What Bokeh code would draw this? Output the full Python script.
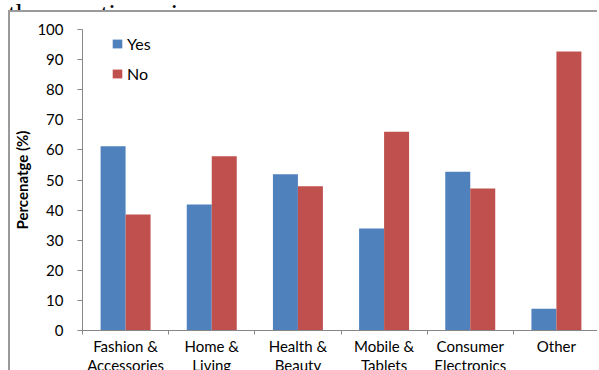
from bokeh.plotting import figure
from bokeh.models import Range1d, FixedTicker, Legend, LegendItem, ColumnDataSource, Div
from bokeh.layouts import column
from bokeh.embed import file_html
from bokeh.resources import INLINE

categories = ["Fashion &\nAccessories", "Home &\nLiving", "Health &\nBeauty",
              "Mobile &\nTablets", "Consumer\nElectronics", "Other"]
yes_values = [61.2, 41.9, 51.9, 33.9, 52.7, 7.2]
no_values = [38.5, 57.9, 47.9, 66.0, 47.2, 92.7]
y_ticks = [0, 10, 20, 30, 40, 50, 60, 70, 80, 90, 100]
series_names = ["Yes", "No"]
caption = "the questionnaire."
y_label = "Percenatge (%)"

BLUE = "#4F81BD"
RED = "#C0504D"
AXIS = "#868686"
FONT = "Lato"

n = len(categories)
p = figure(width=589, height=370, output_backend="svg", toolbar_location=None,
           x_range=Range1d(0, n), y_range=Range1d(0, 100),
           min_border_left=72, min_border_right=0, min_border_top=17, min_border_bottom=52,
           margin=(0, 0, 0, 8),
           styles={"border-left": "2px solid #9a9a9a", "border-top": "2px solid #9a9a9a"})
p.outline_line_color = None
p.grid.visible = False
p.background_fill_color = "white"
p.border_fill_color = "white"

centers = [i + 0.5 for i in range(n)]
src = ColumnDataSource(dict(
    x_yes=[c - 0.145 for c in centers], x_no=[c + 0.145 for c in centers],
    yes=yes_values, no=no_values))
r_yes = p.vbar(x="x_yes", top="yes", bottom=0, width=0.29, source=src,
               fill_color=BLUE, line_color=None)
r_no = p.vbar(x="x_no", top="no", bottom=0, width=0.29, source=src,
              fill_color=RED, line_color=None)

# x axis: labels at category centres, ticks (minor) at category boundaries
xa = p.xaxis[0]
xa.ticker = FixedTicker(ticks=centers, minor_ticks=list(range(n + 1)))
xa.major_label_overrides = {c: cat for c, cat in zip(centers, categories)}
xa.major_label_text_font = FONT
xa.major_label_text_font_size = "15px"
xa.major_label_text_color = "#000000"
xa.major_label_text_line_height = 1.1
xa.major_label_standoff = 2
xa.axis_line_color = AXIS
xa.major_tick_line_color = None
xa.major_tick_out = 4
xa.major_tick_in = 0
xa.minor_tick_line_color = AXIS
xa.minor_tick_out = 4
xa.minor_tick_in = 0

ya = p.yaxis[0]
ya.ticker = FixedTicker(ticks=y_ticks)
ya.axis_line_color = AXIS
ya.major_tick_line_color = AXIS
ya.major_tick_out = 5
ya.major_tick_in = 0
ya.minor_tick_line_color = None
ya.major_label_text_font = FONT
ya.major_label_text_font_size = "15px"
ya.major_label_text_color = "#000000"
ya.major_label_standoff = 14
ya.axis_label = y_label
ya.axis_label_text_font = FONT
ya.axis_label_text_font_style = "bold"
ya.axis_label_text_font_size = "15px"
ya.axis_label_text_color = "#000000"
ya.axis_label_standoff = 3

legend = Legend(items=[LegendItem(label=series_names[0], renderers=[r_yes]),
                       LegendItem(label=series_names[1], renderers=[r_no])],
                location=(29, 247), orientation="vertical")
legend.border_line_color = None
legend.background_fill_alpha = 0
legend.padding = 6
legend.margin = 0
legend.spacing = 10
legend.glyph_width = 12
legend.glyph_height = 11
legend.label_height = 20
legend.label_standoff = 4
legend.label_text_font = FONT
legend.label_text_font_size = "16px"
legend.label_text_color = "#000000"
p.add_layout(legend)

cap = Div(text=f'<div style="margin-top:-20px; margin-left:8px; white-space:nowrap">{caption}</div>',
          width=599, height=10, margin=0,
          styles={"overflow": "hidden", "font-family": "Liberation Serif",
                  "font-size": "28px", "line-height": "28px", "color": "#000000"})

root = column(cap, p, width=599, height=370, margin=0, styles={"overflow": "hidden"})

open("out.html", "w").write(file_html(root, INLINE))
